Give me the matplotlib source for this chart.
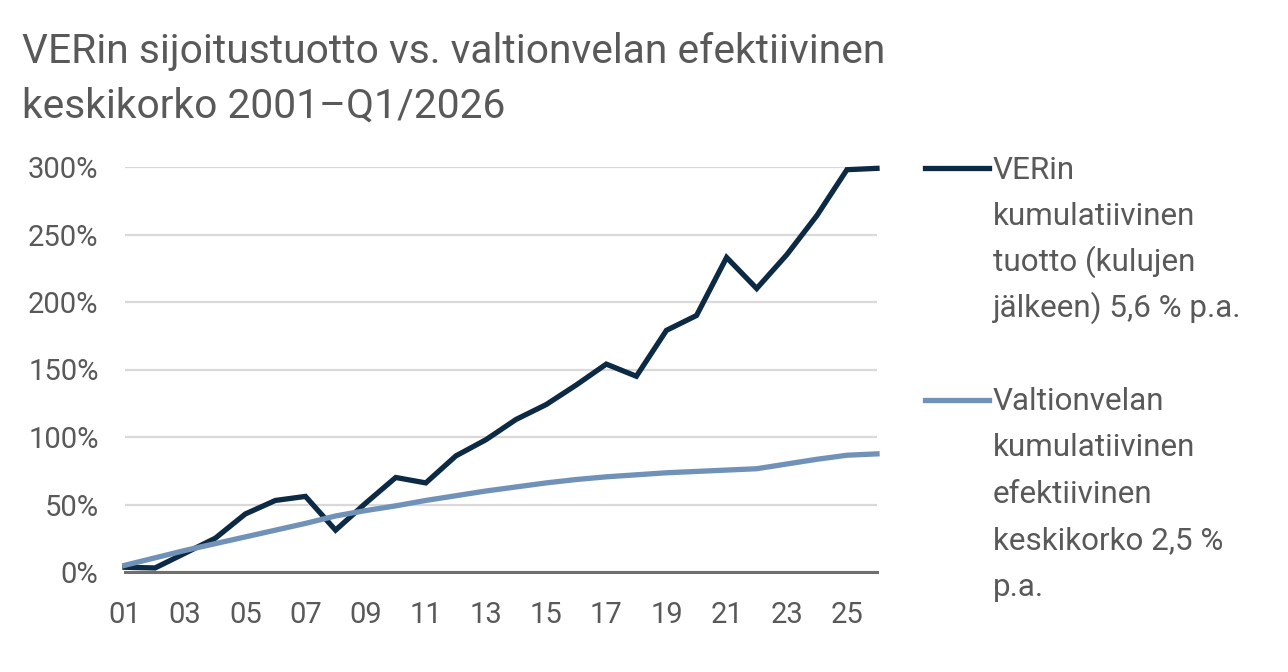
import matplotlib
matplotlib.use("Agg")
import matplotlib.pyplot as plt
from matplotlib.lines import Line2D
from matplotlib import font_manager

years = ["01", "02", "03", "04", "05", "06", "07", "08", "09", "10", "11", "12", "13",
         "14", "15", "16", "17", "18", "19", "20", "21", "22", "23", "24", "25", "26"]
ver_return = [3.5, 3, 14, 25, 43, 53, 56, 31, 51, 70, 66, 86, 98,
              113, 124, 138.5, 154, 145, 179, 190, 233, 210, 235, 264, 298, 299]
debt_rate = [5, 10.5, 16, 21, 26, 31, 36, 41.5, 45.5, 49, 53, 56.5, 60,
             63, 66, 68.5, 70.5, 72, 73.5, 74.5, 75.5, 76.5, 80, 83.5, 86.5, 87.5]
yticks = [0, 50, 100, 150, 200, 250, 300]
ytick_labels = ["0%", "50%", "100%", "150%", "200%", "250%", "300%"]
title_lines = ["VERin sijoitustuotto vs. valtionvelan efektiivinen",
               "keskikorko 2001\u2013Q1/2026"]
legend1 = ["VERin", "kumulatiivinen", "tuotto (kulujen", "jälkeen) 5,6 % p.a."]
legend2 = ["Valtionvelan", "kumulatiivinen", "efektiivinen", "keskikorko 2,5 %", "p.a."]

avail = {f.name for f in font_manager.fontManager.ttflist}
fam = "Liberation Sans Narrow" if "Liberation Sans Narrow" in avail else "Roboto"
plt.rcParams['font.family'] = [fam, 'DejaVu Sans']

TXT = "#595959"
DARK = "#0c2a43"
LIGHT = "#7092b8"
W, H = 1288, 672

fig = plt.figure(figsize=(W / 100, H / 100), dpi=100)
ax = fig.add_axes([125 / W, (H - 572) / H, 752 / W, 405 / H])

x = list(range(len(years)))
ax.plot(x, ver_return, color=DARK, lw=3.8, solid_joinstyle='miter', clip_on=False, zorder=3)
ax.plot(x, debt_rate, color=LIGHT, lw=3.8, solid_joinstyle='miter', clip_on=False, zorder=4)

ax.set_xlim(0, len(years) - 1)
ax.set_ylim(0, 300)
ax.set_yticks(yticks)
ax.set_yticklabels(ytick_labels)
ax.set_xticks(x[::2])
ax.set_xticklabels(years[::2])
for s in ["top", "right", "left"]:
    ax.spines[s].set_visible(False)
ax.spines["bottom"].set_color("#6f6f6f")
ax.spines["bottom"].set_linewidth(2.2)
ax.spines["bottom"].set_zorder(2)
ax.grid(axis='y', color="#d9d9d9", lw=1.6, zorder=0)
ax.set_axisbelow(True)
ax.tick_params(axis='both', length=0, labelsize=21, colors=TXT)
ax.tick_params(axis='y', pad=19)
ax.tick_params(axis='x', pad=21)

# title
fig.text(22 / W, 1 - 63 / H, title_lines[0], fontsize=29.3, color=TXT, va='baseline', ha='left')
fig.text(22 / W, 1 - 118 / H, title_lines[1], fontsize=29.3, color=TXT, va='baseline', ha='left')

# legend
fig.add_artist(Line2D([925 / W, 989 / W], [1 - 168 / H, 1 - 168 / H], color=DARK, lw=3.8,
                      transform=fig.transFigure))
fig.add_artist(Line2D([925 / W, 989 / W], [1 - 400 / H, 1 - 400 / H], color=LIGHT, lw=3.8,
                      transform=fig.transFigure))
for i, t in enumerate(legend1):
    fig.text(993 / W, 1 - (179 + 46 * i) / H, t, fontsize=22.6, color=TXT, va='baseline', ha='left')
for i, t in enumerate(legend2):
    fig.text(993 / W, 1 - (410 + 46.5 * i) / H, t, fontsize=22.6, color=TXT, va='baseline', ha='left')

fig.savefig("out.png", dpi=100)
